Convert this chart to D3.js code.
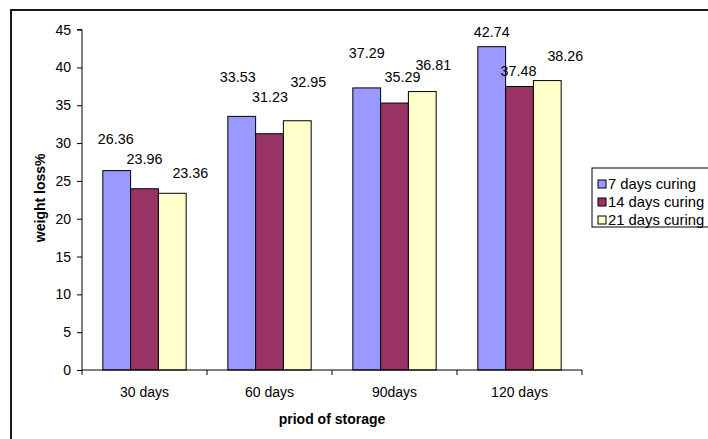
<!DOCTYPE html>
<html><head><meta charset="utf-8">
<script src="https://cdn.jsdelivr.net/npm/d3@7"></script>
<style>
html,body{margin:0;padding:0;background:#fff;}
svg{display:block;font-family:"Liberation Sans",Arial,sans-serif;}
</style></head>
<body><svg id="c" width="708" height="439"></svg>
<script>
// ---- data ----
const categories = ["30 days", "60 days", "90days", "120 days"];
const seriesNames = ["7 days curing", "14 days curing", "21 days curing"];
const curing7 = [26.36, 33.53, 37.29, 42.74];
const curing14 = [23.96, 31.23, 35.29, 37.48];
const curing21 = [23.36, 32.95, 36.81, 38.26];
const yTicks = [0, 5, 10, 15, 20, 25, 30, 35, 40, 45];
const yTitle = "weight loss%";
const xTitle = "priod of storage";

// ---- layout / style (not data) ----
const colors = ["#9999FF", "#993366", "#FFFFCC"];
// manual nudges of value labels (dx, dy in px relative to bar centre / top), as in the original
const labelDx = [[-1, -4, 0, 0], [0, 0.5, 8, -1], [18, 11, 11, 18]];
const labelDy = [[-32, -39, -35, -15], [-30, -37, -26, -15.5], [-20, -39, -26.5, -25]];

const series = [curing7, curing14, curing21];
const svg = d3.select("#c");
const pLeft = 82, pRight = 582, pTop = 29.6, pBottom = 370;

// outer frame (extends beyond the window on right and bottom)
svg.append("rect").attr("x", 11).attr("y", 10).attr("width", 760).attr("height", 500)
  .attr("fill", "none").attr("stroke", "#000").attr("stroke-width", 1.8);

const x0 = d3.scaleBand().domain(categories).range([pLeft, pRight]).paddingInner(0).paddingOuter(0);
const x1 = d3.scaleBand().domain(d3.range(3)).range([0, x0.bandwidth()]).paddingInner(0).paddingOuter(0.75);
const y = d3.scaleLinear().domain([0, 45]).range([pBottom, pTop]);

// bars
const g = svg.append("g");
categories.forEach((c, ci) => {
  series.forEach((s, si) => {
    g.append("rect")
      .attr("x", x0(c) + x1(si))
      .attr("y", y(s[ci]))
      .attr("width", x1.bandwidth())
      .attr("height", y(0) - y(s[ci]))
      .attr("fill", colors[si])
      .attr("stroke", "#000").attr("stroke-width", 1);
  });
});

// value labels
categories.forEach((c, ci) => {
  series.forEach((s, si) => {
    svg.append("text")
      .attr("x", x0(c) + x1(si) + x1.bandwidth() / 2 + labelDx[si][ci])
      .attr("y", y(s[ci]) + labelDy[si][ci])
      .attr("dy", "0.35em")
      .attr("text-anchor", "middle")
      .attr("font-size", 14.3)
      .attr("fill", "#000")
      .text(s[ci].toFixed(2));
  });
});

// y axis
const yAxis = d3.axisLeft(y).tickValues(yTicks).tickSize(5).tickPadding(6).tickFormat(d3.format("d"));
const ya = svg.append("g").attr("transform", `translate(${pLeft},0)`).call(yAxis);
ya.select(".domain").attr("stroke", "#000").attr("d", `M-5,${pTop}H0V${pBottom}`);
ya.selectAll("text").attr("font-size", 14).attr("font-family", "Liberation Sans, Arial, sans-serif").attr("fill", "#000");
ya.selectAll("line").attr("stroke", "#000");

// x axis
const xAxis = d3.axisBottom(x0).tickSize(0).tickPadding(17);
const xa = svg.append("g").attr("transform", `translate(0,${pBottom})`).call(xAxis);
xa.select(".domain").attr("stroke", "#000").attr("d", `M${pLeft},0H${pRight}`);
xa.selectAll("text").attr("font-size", 14).attr("font-family", "Liberation Sans, Arial, sans-serif").attr("fill", "#000");
const bounds = categories.map(c => x0(c)).concat([pRight]);
xa.selectAll("line.sep").data(bounds).enter().append("line").attr("class", "sep")
  .attr("x1", d => d).attr("x2", d => d).attr("y1", 0).attr("y2", 5).attr("stroke", "#000");

// axis titles
svg.append("text").attr("transform", `translate(40,${(pTop + pBottom) / 2 - 2}) rotate(-90)`)
  .attr("text-anchor", "middle").attr("dy", "0.35em")
  .attr("font-size", 14).attr("font-weight", "bold").text(yTitle);
svg.append("text").attr("x", (pLeft + pRight) / 2).attr("y", 419).attr("dy", "0.35em")
  .attr("text-anchor", "middle").attr("font-size", 14).attr("font-weight", "bold").text(xTitle);

// legend
const lg = svg.append("g").attr("transform", "translate(592,168)");
lg.append("rect").attr("x", 0).attr("y", 0).attr("width", 200).attr("height", 59)
  .attr("fill", "#fff").attr("stroke", "#000").attr("stroke-width", 1);
seriesNames.forEach((n, i) => {
  const cy = 16 + i * 18;
  lg.append("rect").attr("x", 6).attr("y", cy - 4).attr("width", 8).attr("height", 8)
    .attr("fill", colors[i]).attr("stroke", "#000").attr("stroke-width", 1);
  lg.append("text").attr("x", 16).attr("y", cy).attr("dy", "0.35em")
    .attr("font-size", 14.8).text(n);
});
</script></body></html>
